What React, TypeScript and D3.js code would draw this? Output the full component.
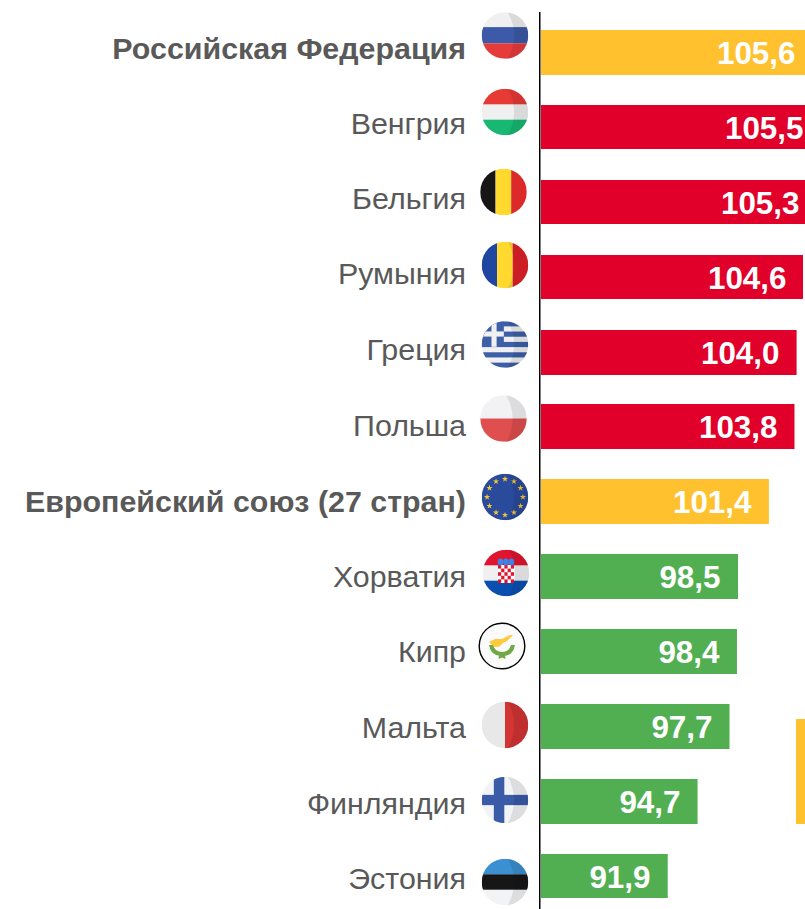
import React from "react";
import * as d3 from "d3";

const countries = ["Российская Федерация","Венгрия","Бельгия","Румыния","Греция","Польша","Европейский союз (27 стран)","Хорватия","Кипр","Мальта","Финляндия","Эстония"];
const values = [105.6,105.5,105.3,104.6,104.0,103.8,101.4,98.5,98.4,97.7,94.7,91.9];
const kinds = ["hi","red","red","red","red","red","hi","green","green","green","green","green"];
const flagIds = ["ru","hu","be","ro","gr","pl","eu","hr","cy","mt","fi","ee"];

const W = 805, H = 909;
const barTops = [30,105,180,255,330,404,479,554,629,704,779,854];
const barHeights = [45,44,44,44,45,45,45,45,45,45,45,44];
const labelEnds = [795.5,803.5,799.5,786.5,779.5,777.5,751.5,720.5,719.5,712.5,680.5,650.5];
const nameBaselines = [59,134,209,284,360,436,512,587,662,738,814,889];
const flagCx = [505,505,503.5,505,505,503.5,505,506,502,505,505,505];
const flagCy = [35.5,112,192,265,344.5,418.5,497,573,646,725,800,882];
const colors: Record<string,string> = { hi:"#FFC22E", red:"#E0002A", green:"#51AF52" };
const x = d3.scaleLinear().domain([80,106]).range([541,541+26*10.65]);
const R = 23.3;

function Flag({ id, cx, cy }: { id: string; cx: number; cy: number }) {
  const r = R;
  const S = ({ y0, y1, c }: any) => <rect x={-r} y={y0*r} width={2*r} height={(y1-y0)*r} fill={c} />;
  const V = ({ x0, x1, c }: any) => <rect x={x0*r} y={-r} width={(x1-x0)*r} height={2*r} fill={c} />;
  let body: React.ReactNode = null;
  if (id==="ru") body = <><rect x={-r} y={-r} width={2*r} height={2*r} fill="#F0F0F0"/><S y0={-0.36} y1={0.34} c="#3D5AA8"/><S y0={0.34} y1={1} c="#E63B3B"/></>;
  if (id==="hu") body = <><rect x={-r} y={-r} width={2*r} height={2*r} fill="#F0F0F0"/><S y0={-1} y1={-0.33} c="#E83A34"/><S y0={0.33} y1={1} c="#18B873"/></>;
  if (id==="be") body = <><V x0={-1} x1={-0.34} c="#161616"/><V x0={-0.34} x1={0.33} c="#FFD92E"/><V x0={0.33} x1={1} c="#DC2A2A"/></>;
  if (id==="ro") body = <><V x0={-1} x1={-0.34} c="#1F46A0"/><V x0={-0.34} x1={0.33} c="#FFD92E"/><V x0={0.33} x1={1} c="#E02228"/></>;
  if (id==="pl") body = <><rect x={-r} y={-r} width={2*r} height={r} fill="#F2F2F4"/><rect x={-r} y={0} width={2*r} height={r} fill="#E04F4F"/></>;
  if (id==="mt") body = <><rect x={-r} y={-r} width={r} height={2*r} fill="#E8E8E8"/><rect x={0} y={-r} width={r} height={2*r} fill="#D33434"/></>;
  if (id==="fi") body = <><rect x={-r} y={-r} width={2*r} height={2*r} fill="#F2F3F6"/><V x0={-0.48} x1={-0.03} c="#3A5BA8"/><S y0={-0.22} y1={0.22} c="#3A5BA8"/></>;
  if (id==="ee") body = <><rect x={-r} y={-r} width={2*r} height={2*r} fill="#F2F3F5"/><S y0={-1} y1={-0.33} c="#3A90D0"/><S y0={-0.33} y1={0.33} c="#161616"/></>;
  if (id==="gr") {
    const rows = d3.range(9);
    body = <><rect x={-r} y={-r} width={2*r} height={2*r} fill="#F0F0F2"/>
      {rows.filter(i=>i%2===0).map(i=><rect key={i} x={-r} y={-r+i*2*r/9} width={2*r} height={2*r/9} fill="#3D5FA8"/>)}
      <rect x={-r} y={-r} width={r*0.95} height={r*1.1} fill="#3D5FA8"/>
      <rect x={-r} y={-r*0.56} width={r*0.95} height={r*0.22} fill="#F0F0F2"/>
      <rect x={-r*0.58} y={-r} width={r*0.22} height={r*1.1} fill="#F0F0F2"/></>;
  }
  if (id==="eu") {
    const star = d3.symbol().type(d3.symbolStar).size(12)()!;
    body = <><rect x={-r} y={-r} width={2*r} height={2*r} fill="#2A4A9C"/>
      {d3.range(12).map(i=>{const a=i*Math.PI/6;return <path key={i} d={star} transform={`translate(${Math.sin(a)*r*0.77},${-Math.cos(a)*r*0.77})`} fill="#F5C63A"/>;})}</>;
  }
  if (id==="hr") {
    const cells = d3.range(5).flatMap(i=>d3.range(5).map(j=>({i,j})));
    body = <><rect x={-r} y={-r} width={2*r} height={2*r} fill="#F0F0F0"/><S y0={-1} y1={-0.33} c="#E0142E"/><S y0={0.33} y1={1} c="#0A4FB0"/>
      <rect x={-8} y={-8} width={16} height={18} rx={3} fill="#fff"/>
      {cells.filter(c=>(c.i+c.j)%2===0).map(c=><rect key={c.i+"-"+c.j} x={-8+c.i*3.2} y={-8+c.j*3.6} width={3.2} height={3.6} fill="#E0142E"/>)}
      {[-5.5,0,5.5].map(d=><ellipse key={d} cx={d} cy={-11} rx={2.8} ry={3.4} fill="#3A86E8"/>)}</>;
  }
  if (id==="cy") {
    return <g transform={`translate(${cx},${cy})`}>
      <circle r={r-0.5} fill="#FBFBFB" stroke="#000" strokeWidth={1.4}/>
      <path d="M-13,-4 L-7,-7 L0,-7 L8,-11 L11,-11 L5,-5 L1,-3 L-3,0.7 L-8,0.7 Z" fill="#FFC93C"/>
      <path d="M-13,-1 Q-11,10 -1,10 L1,10 Q11,10 13,-1 L9,-1 Q7,6 0,6 Q-7,6 -9,-1 Z" fill="#6FA844"/>
      <path d="M-3,9 L3,9 L3.5,13 L0,11.5 L-3.5,13 Z" fill="#6FA844"/>
    </g>;
  }
  const clip = "clip-"+id;
  return <g transform={`translate(${cx},${cy})`}>
    <clipPath id={clip}><circle r={r}/></clipPath>
    <g clipPath={`url(#${clip})`}>
      {body}
      {id!=="be" && <path d={`M${r*0.12},${-r} Q${r*0.66},0 ${r*0.12},${r} L${r},${r} L${r},${-r} Z`} fill="#000" opacity={0.09}/>}
    </g>
  </g>;
}

export default function App() {
  return (
    <svg width={W} height={H} viewBox={`0 0 ${W} ${H}`} style={{position:"absolute",left:0,top:0,background:"#fff",fontFamily:"'Liberation Sans', Arial, sans-serif"}}>
      <rect x={796} y={719} width={9} height={105} fill={colors.hi}/>
      {countries.map((c,i)=>(
        <g key={c}>
          <rect x={x(80)} y={barTops[i]} width={Math.min(x(values[i]),W)-x(80)} height={barHeights[i]} fill={colors[kinds[i]]}/>
          <text x={466} y={nameBaselines[i]} textAnchor="end" fontSize={30.4} fontWeight={kinds[i]==="hi"?700:400} fill="#595959">{c}</text>
          <text x={labelEnds[i]} y={barTops[i]+34.4} textAnchor="end" fontSize={31.4} fontWeight={700} fill="#fff">{values[i].toFixed(1).replace(".",",")}</text>
          <Flag id={flagIds[i]} cx={flagCx[i]} cy={flagCy[i]}/>
        </g>
      ))}
      <line x1={539.75} x2={539.75} y1={12} y2={H} stroke="#000" strokeWidth={1.5}/>
    </svg>
  );
}
